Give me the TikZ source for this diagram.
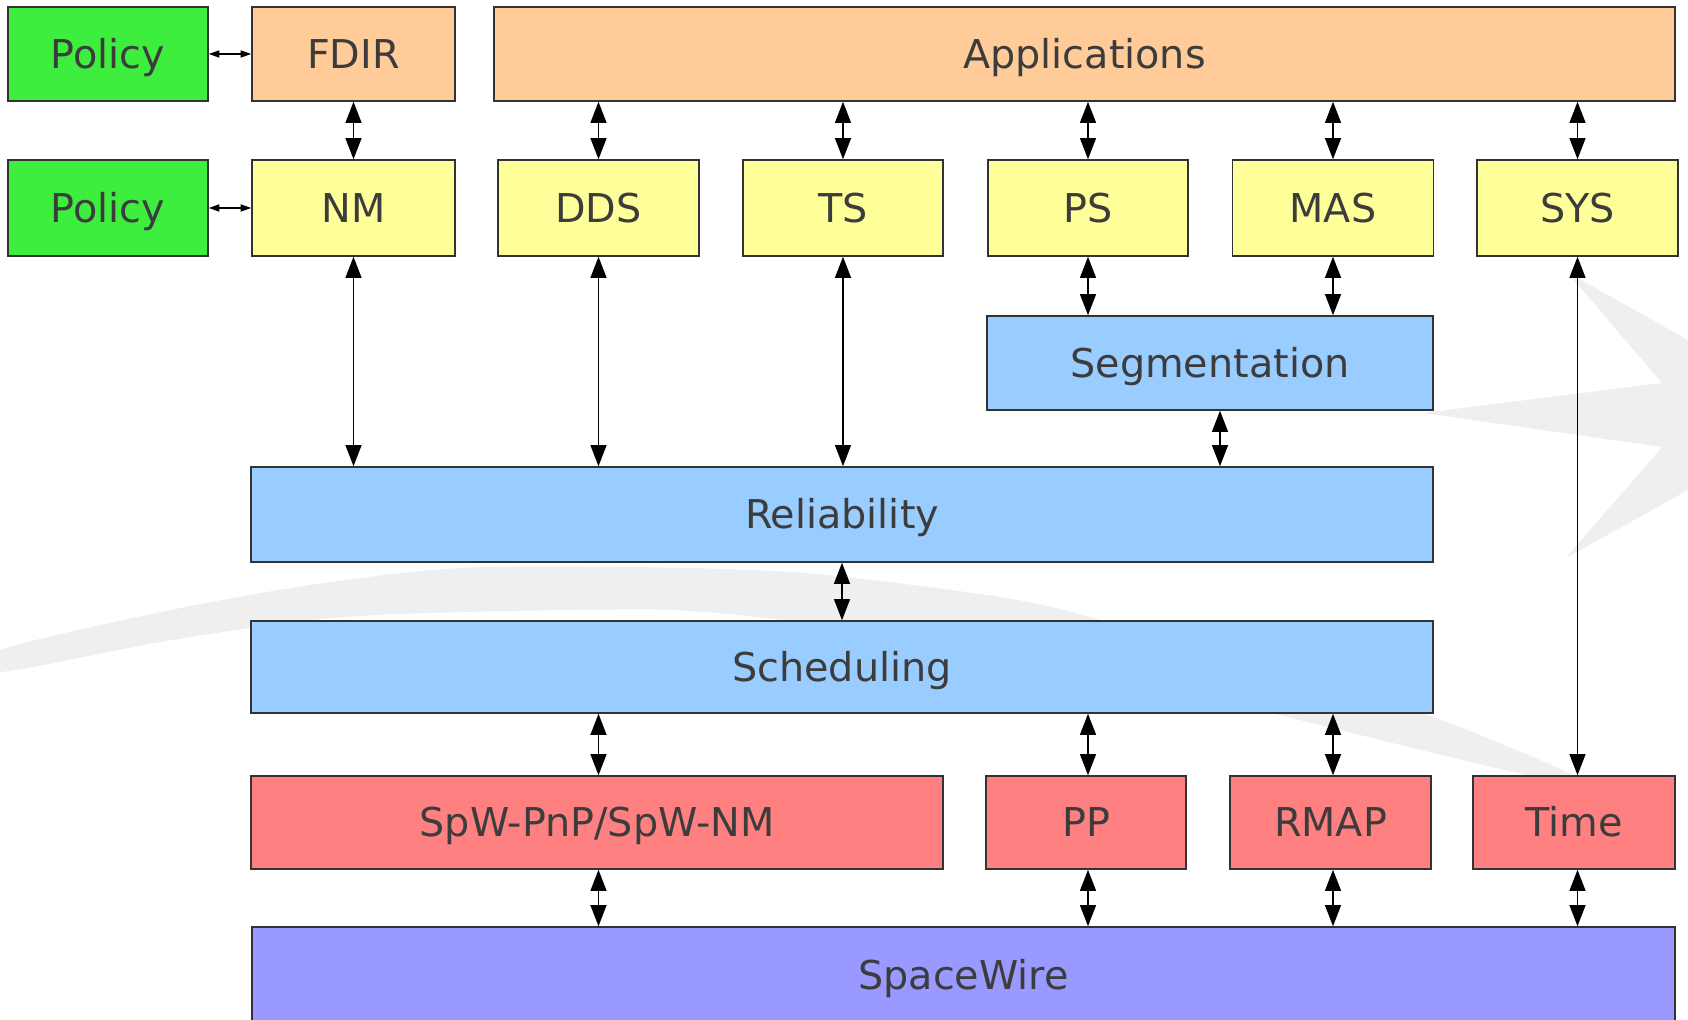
\documentclass[tikz,border=0pt]{standalone}
\usepackage{fontspec}
\setmainfont{DejaVu Sans}
\usepackage{tikz}
\usetikzlibrary{arrows.meta,calc,positioning}

\definecolor{policygreen}{HTML}{3EEE3E}
\definecolor{apporange}{HTML}{FFCC99}
\definecolor{svcyellow}{HTML}{FFFF99}
\definecolor{corblue}{HTML}{99CCFF}
\definecolor{prored}{HTML}{FF8080}
\definecolor{spwviolet}{HTML}{9999FF}
\definecolor{edgegray}{HTML}{333333}
\definecolor{txtgray}{HTML}{3C3C3C}
\definecolor{swoosh}{HTML}{EFEFEF}

\begin{document}
\begin{tikzpicture}[x=0.02cm,y=-0.02cm,
    mybox/.style={
       draw=edgegray,
       line width=0.85pt,
       inner sep=0pt,
       text=txtgray,
       text height=16.5pt,
       text depth=0pt,
       font=\fontsize{22.6}{27}\selectfont,
       minimum width=4cm,
       minimum height=1.9cm},
    myarrow/.style={{Triangle[length=12pt,width=9pt]}-{Triangle[length=12pt,width=9pt]},line width=1pt},
    smallarrow/.style={{Triangle[length=6pt,width=4pt]}-{Triangle[length=6pt,width=4pt]},line width=0.8pt}
    ]
    \clip (0,0) rectangle (1688,1020);

    % faint logo in the background
    \fill[swoosh] plot[smooth cycle,tension=0.5] coordinates {
      (0,650) (161,612) (310,585) (459,568) (631,567) (804,573) (1000,597)
      (1101,620) (1300,678) (1433,717) (1575,776)
      (1548,780) (1287,717) (1150,683) (1000,648) (717,613) (574,610) (344,617) (172,640) (0,672)};
    \fill[swoosh] (1567,272) -- (1662,383) -- (1423,413) -- (1662,447)
      -- (1566,558) -- (1688,490) -- (1688,340) -- cycle;

    % top rows
    \node[mybox,fill=policygreen,minimum height=1.88cm] (pol1) at (108,54) {Policy};
    \node[mybox,fill=apporange,minimum width=4.06cm,minimum height=1.88cm] (fdir) at (353.5,54) {FDIR};
    \node[mybox,fill=apporange,minimum width=23.62cm,minimum height=1.88cm] (app) at (1084.5,54) {Applications};

    \node[mybox,fill=policygreen,minimum height=1.92cm] (pol2) at (108,208) {Policy};
    \node[mybox,fill=svcyellow,minimum width=4.06cm,minimum height=1.92cm] (nm) at (353.5,208) {NM};
    \node[mybox,fill=svcyellow,minimum width=4.02cm,minimum height=1.92cm] (dds) at (598.5,208) {DDS};
    \node[mybox,fill=svcyellow,minimum height=1.92cm] (ts) at (843,208) {TS};
    \node[mybox,fill=svcyellow,minimum height=1.92cm] (ps) at (1088,208) {PS};
    \node[mybox,fill=svcyellow,minimum width=4.02cm,minimum height=1.92cm] (mas) at (1333,208) {MAS};
    \node[mybox,fill=svcyellow,minimum width=4.02cm,minimum height=1.92cm] (sys) at (1577.5,208) {SYS};

    % core layers
    \node[mybox,fill=corblue,minimum width=8.92cm,minimum height=1.88cm] (seg) at (1210,363) {Segmentation};
    \node[mybox,fill=corblue,minimum width=23.64cm] (rel) at (842,514.5) {Reliability};
    \node[mybox,fill=corblue,minimum width=23.64cm,minimum height=1.84cm] (sch) at (842,667) {Scheduling};

    % protocols
    \node[mybox,fill=prored,minimum width=13.84cm,minimum height=1.86cm] (pnp) at (597,822.5) {SpW-PnP/SpW-NM};
    \node[mybox,fill=prored,minimum height=1.86cm] (pp) at (1086,822.5) {PP};
    \node[mybox,fill=prored,minimum width=4.02cm,minimum height=1.86cm] (rmap) at (1330.5,822.5) {RMAP};
    \node[mybox,fill=prored,minimum width=4.04cm,minimum height=1.86cm] (time) at (1574,822.5) {Time};

    \node[mybox,fill=spwviolet,minimum width=28.46cm,minimum height=1.92cm] (spw) at (963.5,975) {SpaceWire};

    \coordinate (segx) at ($(seg.south)+(10,0)$);

    \draw[smallarrow] (pol1) -- (fdir);
    \draw[smallarrow] (pol2) -- (nm);

  \foreach \i/\j in {% upper end/lower end
    fdir.south/nm.north,
    app.south -| dds.north/dds.north,
    app.south -| ts.north/ts.north,
    app.south -| ps.north/ps.north,
    app.south -| mas.north/mas.north,
    app.south -| sys.north/sys.north,
    nm.south/rel.north -| nm.south,
    dds.south/rel.north -| dds.south,
    ts.south/rel.north -| ts.south,
    ps.south/seg.north -| ps.south,
    mas.south/seg.north -| mas.south,
    segx/rel.north -| segx,
    rel.south/sch.north,
    sch.south -| dds.south/pnp.north -| dds.south,
    sch.south -| ps.south/pp.north -| ps.south,
    sch.south -| mas.south/rmap.north -| mas.south,
    sys.south/time.north -| sys.south,
    pnp.south -| dds.south/spw.north -| dds.south,
    pp.south -| ps.south/spw.north -| ps.south,
    rmap.south -| mas.south/spw.north -| mas.south,
    time.south -| sys.south/spw.north -| sys.south}
     \draw[myarrow] (\i) -- (\j);
  \end{tikzpicture}
\end{document}
